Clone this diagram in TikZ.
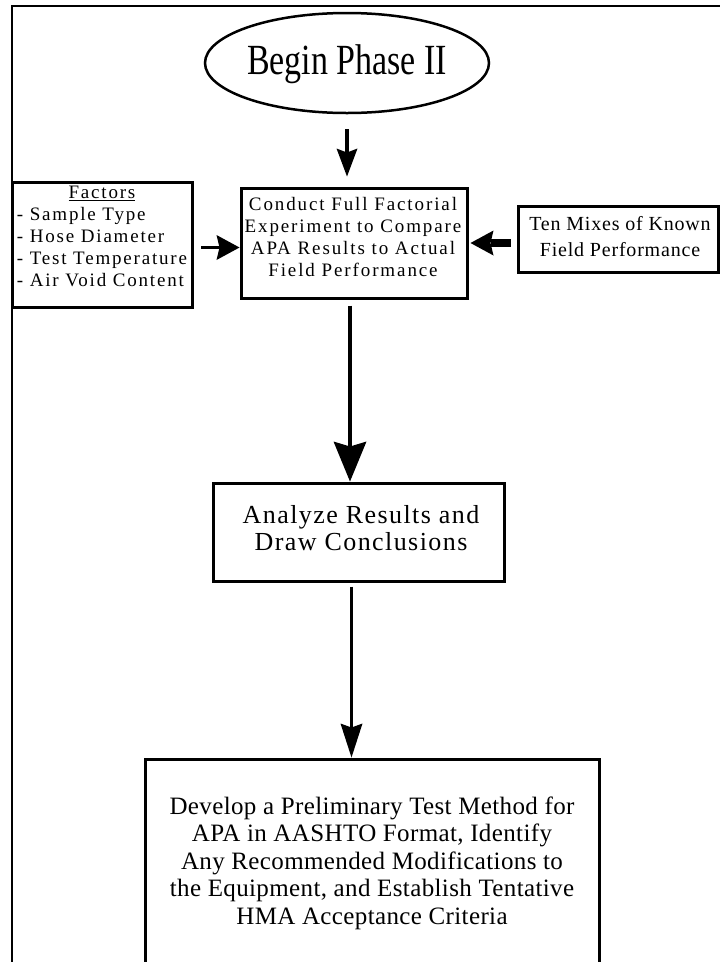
\documentclass[tikz,border=0pt]{standalone}
\usepackage{fontspec}
\setmainfont{Liberation Serif}
\usetikzlibrary{arrows.meta,shapes.geometric,calc}
\begin{document}
\begin{tikzpicture}[x=1pt,y=-1pt,
  box/.style={draw,line width=3pt,inner sep=0pt,rectangle},
  txt/.style={align=center,inner sep=0pt},
  conn/.style={line width=3.5pt},
  headS/.style={-{Stealth[length=28pt,width=21pt,inset=4pt,line width=0pt]}},
  headB/.style={-{Stealth[length=40pt,width=33pt,inset=5pt,line width=0pt]}},
  headM/.style={-{Stealth[length=34pt,width=22pt,inset=4pt,line width=0pt]}},
  headH/.style={-{Stealth[length=23pt,width=25pt,inset=3pt,line width=0pt]}}]
\useasboundingbox (0,0) rectangle (720,962);
\clip (0,0) rectangle (720,962);
\fill[white] (0,0) rectangle (720,962);
\draw[line width=2pt] (12,975) -- (12,6) -- (735,6);

% start ellipse
\node[draw,ellipse,line width=2.5pt,minimum width=284pt,minimum height=100pt,inner sep=0pt] (start) at (347,63) {};
\node[txt,font=\fontsize{43}{46}\selectfont] (startt) at (347,64) {\scalebox{0.79}[1]{Begin Phase II}};

% conduct box
\node[box,minimum width=226pt,minimum height=110pt] (cond) at (354,243) {};
\node[txt,font=\fontsize{19}{22}\selectfont\addfontfeatures{LetterSpace=10}] (condt) at (353,237)
  {Conduct Full Factorial\\Experiment to Compare\\APA Results to Actual\\Field Performance};

% factors box
\node[box,minimum width=180pt,minimum height=125pt] (fac) at (102.5,244.5) {};
\node[txt,font=\fontsize{19}{22}\selectfont\addfontfeatures{LetterSpace=9.5}] (fact) at (102,238)
  {\begin{tabular}{@{}l@{}}\multicolumn{1}{@{}c@{}}{\underline{Factors}}\\- Sample Type\\- Hose Diameter\\- Test Temperature\\- Air Void Content\end{tabular}};

% ten mixes box
\node[box,minimum width=200pt,minimum height=66pt] (ten) at (618,239) {};
\node[txt,font=\fontsize{20}{26}\selectfont\addfontfeatures{LetterSpace=4}] (tent) at (620,236.5)
  {Ten Mixes of Known\\Field Performance};

% analyze box
\node[box,minimum width=291pt,minimum height=98pt] (ana) at (358.5,532) {};
\node[txt,font=\fontsize{26}{27}\selectfont\addfontfeatures{LetterSpace=5.5}] (anat) at (361,528.5)
  {Analyze Results and\\Draw Conclusions};

% bottom box
\node[box,minimum width=454pt,minimum height=260pt] (bot) at (372,889) {};
\node[txt,font=\fontsize{25}{27.5}\selectfont\addfontfeatures{LetterSpace=1.5}] (bott) at (372,863)
  {Develop a Preliminary Test Method for\\APA in AASHTO Format, Identify\\Any Recommended Modifications to\\the Equipment, and Establish Tentative\\HMA Acceptance Criteria};

% connectors
\draw[conn,headS,shorten <=15pt,shorten >=10pt] (start.south) -- (start.south |- cond.north);
\draw[conn,headB,shorten <=6pt] ($(cond.south)+(-4,0)$) -- ($(cond.south |- ana.north)+(-4,0)$);
\draw[conn,headM,shorten <=4pt] ($(ana.south)+(-7,0)$) -- ($(ana.south |- bot.north)+(-7,0)$);
\draw[conn,headH,shorten <=7pt] ($(fac.east)+(0,3)$) -- ($(cond.west |- fac.east)+(0,3)$);
\draw[line width=8pt,headH,shorten <=6pt,shorten >=2pt] ($(ten.west)+(0,4)$) -- ($(cond.east |- ten.west)+(0,4)$);
\end{tikzpicture}
\end{document}
